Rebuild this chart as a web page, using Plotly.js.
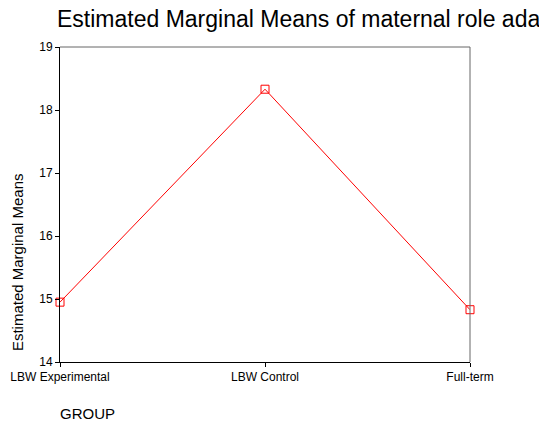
<!DOCTYPE html>
<html>
<head>
<meta charset="utf-8">
<script src="https://cdn.plot.ly/plotly-3.0.1.min.js"></script>
<style>html,body{margin:0;padding:0;background:#fff;}#chart{width:539px;height:423px;}</style>
</head>
<body>
<div id="chart"></div>
<script>
const groups = ["LBW Experimental", "LBW Control", "Full-term"];
const means = [14.95, 18.33, 14.83];
const yTicks = [14, 15, 16, 17, 18, 19];

const trace = {
  x: [0, 1, 2],
  y: means,
  type: "scatter",
  mode: "lines+markers",
  line: {color: "#ff0000", width: 1},
  marker: {symbol: "square-open", size: 8, color: "#ff0000", line: {width: 1, color: "#ff0000"}},
  cliponaxis: false,
  hoverinfo: "none"
};

const layout = {
  width: 539, height: 423,
  margin: {l: 60, r: 69, t: 47, b: 61},
  paper_bgcolor: "#fff", plot_bgcolor: "#fff",
  showlegend: false,
  font: {family: "Liberation Sans, Arial, sans-serif", color: "#000"},
  title: {text: "Estimated Marginal Means of maternal role ada", x: 57 / 539, xref: "container", xanchor: "left",
          font: {size: 23, color: "#000"}, y: 19 / 423 > 0 ? 1 - 19 / 423 : 0.955, yref: "container", yanchor: "middle"},
  xaxis: {
    range: [0, 2], tickvals: [0, 1, 2], ticktext: groups,
    showgrid: false, zeroline: false, showline: true, linecolor: "#000", linewidth: 1,
    ticks: "outside", ticklen: 4, tickcolor: "#000", tickfont: {size: 12}, fixedrange: true
  },
  yaxis: {
    range: [14, 19], tickvals: yTicks, ticktext: yTicks.map(String),
    showgrid: false, zeroline: false, showline: true, linecolor: "#000", linewidth: 1,
    ticks: "outside", ticklen: 4, tickcolor: "#000", tickfont: {size: 12}, fixedrange: true
  },
  shapes: [
    {type: "line", xref: "paper", yref: "paper", x0: 0, x1: 1, y0: 1, y1: 1, line: {color: "#666", width: 1}},
    {type: "line", xref: "paper", yref: "paper", x0: 1, x1: 1, y0: 0, y1: 1, line: {color: "#666", width: 1}}
  ],
  annotations: [
    {text: "GROUP", xref: "paper", yref: "paper", x: -0.005, y: -0.162, xanchor: "left", yanchor: "middle",
     showarrow: false, font: {size: 15, color: "#000"}},
    {text: "Estimated Marginal Means", xref: "paper", yref: "paper", x: -0.105, y: 0.317, textangle: -90,
     xanchor: "center", yanchor: "middle", showarrow: false, font: {size: 15, color: "#000"}}
  ]
};

Plotly.newPlot("chart", [trace], layout, {staticPlot: true});
</script>
</body>
</html>
